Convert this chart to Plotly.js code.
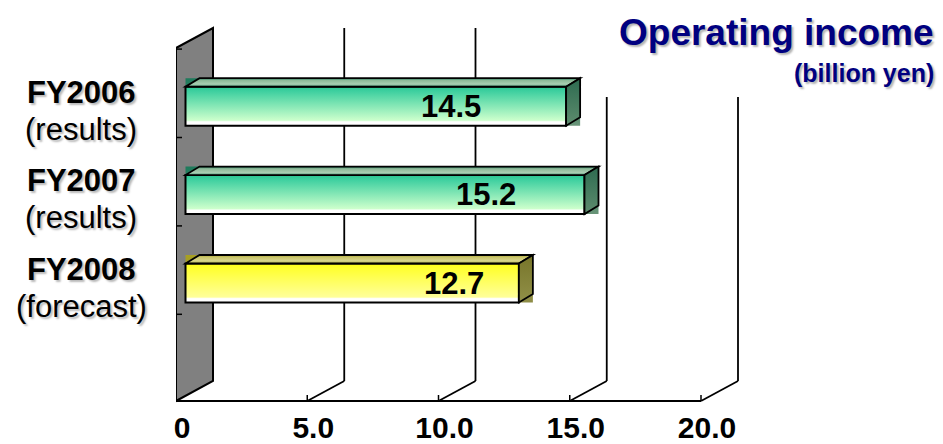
<!DOCTYPE html>
<html>
<head>
<meta charset="utf-8">
<script src="https://cdn.plot.ly/plotly-3.0.1.min.js"></script>
<style>
  html, body { margin: 0; padding: 0; background: #fff; }
  #chart { width: 943px; height: 444px; }
</style>
</head>
<body>
<div id="chart"></div>
<script>
// Operating income by fiscal year, billion yen
const fiscalYears = ['FY2006', 'FY2007', 'FY2008'];
const yearNotes = ['(results)', '(results)', '(forecast)'];
const incomeValues = [14.5, 15.2, 12.7];
const tickValues = [0, 5, 10, 15, 20];
const tickLabels = ['0', '5.0', '10.0', '15.0', '20.0'];

// ---- layout geometry -------------------------------------------------
const FONT = 'Liberation Sans, Arial, Helvetica, sans-serif';
const W = 943, H = 444;
const M = { l: 176, r: 180, t: 16, b: 40 };
const plotW = W - M.l - M.r, plotH = H - M.t - M.b;

const PX_PER_UNIT = 26.25;          // value axis scale
const CAT0_PX = 106.2, PX_PER_CAT = 88.4;   // category axis scale
const xMax = plotW / PX_PER_UNIT;
const yRange = [(H - M.b - CAT0_PX) / PX_PER_CAT, (M.t - CAT0_PX) / PX_PER_CAT];

const dx = px => px / PX_PER_UNIT;
const dy = px => px / PX_PER_CAT;
const yAt = py => (py - CAT0_PX) / PX_PER_CAT;
const paperX = px => (px - M.l) / plotW;
const paperY = py => 1 - (py - M.t) / plotH;

// 3-D frame: front plane, floor and depth vector of the back wall
const FRONT_TOP = yAt(48), FLOOR = yAt(401);
const DEPTH = { x: dx(37), y: dy(-20) };
const CAT_EDGE = yAt(137.5);
// bar solids: shift of the front face, thickness and depth
const BAR = { shift: dx(9.5), width: dy(39), depthX: dx(14), depthY: dy(-8.5) };
const VALUE_LABEL_SHIFT = [-83, -67, -33];

const isForecast = yearNotes.map(n => n === '(forecast)');

// ---- gradients applied after rendering --------------------------------
const GRADS = {
  frontGreen: [[0, '#2bc693'], [0.12, '#3fd0a0'], [0.86, '#ccffcc'], [0.9, '#ffffff'], [1, '#ffffff']],
  topGreen:   [[0, '#1f7a5c'], [0.25, '#8cb998'], [0.7, '#a9ceb2'], [1, '#4f9c7c']],
  sideGreen:  [[0, '#2d6b50'], [1, '#5e8c6e']],
  boxGreen:   [[0, '#1d7a5b'], [0.5, '#3e8a6a'], [1, '#6a9478']],
  frontYellow:[[0, '#ffff14'], [0.12, '#ffff30'], [0.86, '#ffff99'], [0.9, '#ffffff'], [1, '#ffffff']],
  topYellow:  [[0, '#a9a228'], [0.25, '#c9c46a'], [0.7, '#d8d68e'], [1, '#aaa640']],
  sideYellow: [[0, '#77752a'], [1, '#919048']],
  boxYellow:  [[0, '#a8a020'], [0.5, '#9c9838'], [1, '#8d8c48']]
};

const shapes = [];
const shapeGrad = {};
function addShape(s, grad) {
  if (grad) shapeGrad[shapes.length] = grad;
  shapes.push(s);
}
const poly = pts => 'M' + pts.map(p => p[0] + ',' + p[1]).join('L') + 'Z';
const dataLine = (x0, y0, x1, y1, w) => ({
  type: 'line', xref: 'x', yref: 'y', layer: 'below',
  x0, y0, x1, y1, line: { color: '#000', width: w || 1.8 }
});

// side wall
addShape({
  type: 'path', xref: 'x', yref: 'y', layer: 'below',
  path: poly([[0, FLOOR], [0, FRONT_TOP], [DEPTH.x, FRONT_TOP + DEPTH.y], [DEPTH.x, FLOOR + DEPTH.y]]),
  fillcolor: '#808080', line: { color: '#000', width: 2 }
});
// category division ticks on the wall
for (let k = -1; k < fiscalYears.length; k++) {
  addShape(dataLine(0, k + CAT_EDGE, dx(6), k + CAT_EDGE, 1.5));
}
// back-wall gridlines, floor diagonals and front floor edge
tickValues.forEach(v => {
  if (v === 0) return;
  addShape(dataLine(v + DEPTH.x, FLOOR + DEPTH.y, v + DEPTH.x, FRONT_TOP + DEPTH.y));
  addShape(dataLine(v, FLOOR, v + DEPTH.x, FLOOR + DEPTH.y));
  addShape(dataLine(v, FLOOR, v, FLOOR - dy(6), 1.5));
});
addShape(dataLine(0, FLOOR, tickValues[tickValues.length - 1], FLOOR));

// bar solids: backing box, top face and end face
incomeValues.forEach((v, i) => {
  const kind = isForecast[i] ? 'Yellow' : 'Green';
  const xl = BAR.shift, xr = BAR.shift + v;
  const yt = i - BAR.width / 2, yb = i + BAR.width / 2;
  addShape({
    type: 'rect', xref: 'x', yref: 'y', layer: 'below',
    x0: xl, x1: xr + BAR.depthX, y0: yt + BAR.depthY, y1: yb,
    fillcolor: isForecast[i] ? '#a09c30' : '#3e8a6a', line: { width: 0 }
  }, 'box' + kind);
  addShape({
    type: 'path', xref: 'x', yref: 'y', layer: 'above',
    path: poly([[xl, yt], [xr, yt], [xr + BAR.depthX, yt + BAR.depthY], [xl + BAR.depthX, yt + BAR.depthY]]),
    fillcolor: isForecast[i] ? '#c9c46a' : '#8cb998', line: { color: '#000', width: 1.8 }
  }, 'top' + kind);
  addShape({
    type: 'path', xref: 'x', yref: 'y', layer: 'above',
    path: poly([[xr, yt], [xr + BAR.depthX, yt + BAR.depthY], [xr + BAR.depthX, yb + BAR.depthY], [xr, yb]]),
    fillcolor: isForecast[i] ? '#85842e' : '#3f7a5e', line: { color: '#000', width: 1.8 }
  }, 'side' + kind);
});

// white panel behind the title
addShape({
  type: 'rect', xref: 'paper', yref: 'paper', layer: 'above',
  x0: paperX(592), x1: paperX(W + 10), y0: paperY(97), y1: paperY(-10),
  fillcolor: '#fff', line: { width: 0 }
});

// ---- annotations ------------------------------------------------------
const annotations = [];
const labelShadow = '2px 2px 2px rgba(0,0,0,0.28)';
fiscalYears.forEach((fy, i) => {
  annotations.push({
    xref: 'paper', yref: 'y', x: paperX(81), y: i, yshift: 14,
    xanchor: 'center', yanchor: 'middle', showarrow: false, text: fy,
    font: { family: FONT, size: 31, weight: 'bold', color: '#000', shadow: labelShadow }
  });
  annotations.push({
    xref: 'paper', yref: 'y', x: paperX(81), y: i, yshift: -23,
    xanchor: 'center', yanchor: 'middle', showarrow: false, text: yearNotes[i],
    font: { family: FONT, size: 31, color: '#000', shadow: labelShadow }
  });
});
incomeValues.forEach((v, i) => {
  annotations.push({
    xref: 'x', yref: 'y', x: BAR.shift + v, y: i, xshift: VALUE_LABEL_SHIFT[i],
    xanchor: 'right', yanchor: 'middle', showarrow: false, text: v.toFixed(1),
    font: { family: FONT, size: 31, weight: 'bold', color: '#000' }
  });
});
const titleShadow = '2px 2px 2px rgba(0,0,0,0.3)';
annotations.push({
  xref: 'paper', yref: 'paper', x: paperX(936), y: paperY(33),
  xanchor: 'right', yanchor: 'middle', showarrow: false, text: 'Operating income',
  font: { family: FONT, size: 37, weight: 'bold', color: '#000080', shadow: titleShadow }
});
annotations.push({
  xref: 'paper', yref: 'paper', x: paperX(936), y: paperY(73),
  xanchor: 'right', yanchor: 'middle', showarrow: false, text: '(billion yen)',
  font: { family: FONT, size: 25, weight: 'bold', color: '#000080', shadow: titleShadow }
});

// ---- traces -----------------------------------------------------------
const barTrace = {
  type: 'bar', orientation: 'h',
  y: fiscalYears.map((_, i) => i),
  x: incomeValues,
  base: BAR.shift,
  width: BAR.width,
  marker: {
    color: isForecast.map(f => f ? '#ffff66' : '#7fe3b8'),
    line: { color: '#000', width: 2 }
  },
  hoverinfo: 'skip'
};

const layout = {
  width: W, height: H,
  margin: M,
  paper_bgcolor: '#fff', plot_bgcolor: 'rgba(0,0,0,0)',
  showlegend: false,
  xaxis: {
    range: [0, xMax], showgrid: false, zeroline: false, showline: false,
    ticks: '', tickmode: 'array', tickvals: tickValues, ticktext: tickLabels,
    ticklabelstandoff: 3, ticklabelshift: 6,
    tickfont: { family: FONT, size: 30, weight: 'bold', color: '#000' }
  },
  yaxis: {
    range: yRange, showgrid: false, zeroline: false, showline: false,
    showticklabels: false, ticks: ''
  },
  shapes: shapes,
  annotations: annotations
};

function applyGradients(gd) {
  const NS = 'http://www.w3.org/2000/svg';
  const svg = gd.querySelector('svg.main-svg');
  let defs = svg.querySelector('defs');
  if (!defs) { defs = document.createElementNS(NS, 'defs'); svg.insertBefore(defs, svg.firstChild); }
  Object.keys(GRADS).forEach(id => {
    const g = document.createElementNS(NS, 'linearGradient');
    g.setAttribute('id', 'grad-' + id);
    g.setAttribute('x1', '0'); g.setAttribute('y1', '0');
    g.setAttribute('x2', '0'); g.setAttribute('y2', '1');
    GRADS[id].forEach(([o, c]) => {
      const s = document.createElementNS(NS, 'stop');
      s.setAttribute('offset', o); s.setAttribute('stop-color', c);
      g.appendChild(s);
    });
    defs.appendChild(g);
  });
  gd.querySelectorAll('g.trace.bars g.point path').forEach((p, i) => {
    p.style.fill = 'url(#grad-front' + (isForecast[i] ? 'Yellow' : 'Green') + ')';
  });
  Object.keys(shapeGrad).forEach(idx => {
    gd.querySelectorAll('.shapelayer [data-index="' + idx + '"]').forEach(el => {
      const p = el.tagName.toLowerCase() === 'path' ? el : el.querySelector('path');
      if (p) p.style.fill = 'url(#grad-' + shapeGrad[idx] + ')';
    });
  });
}

Plotly.newPlot('chart', [barTrace], layout, { staticPlot: true, displayModeBar: false })
  .then(applyGradients);
</script>
</body>
</html>
